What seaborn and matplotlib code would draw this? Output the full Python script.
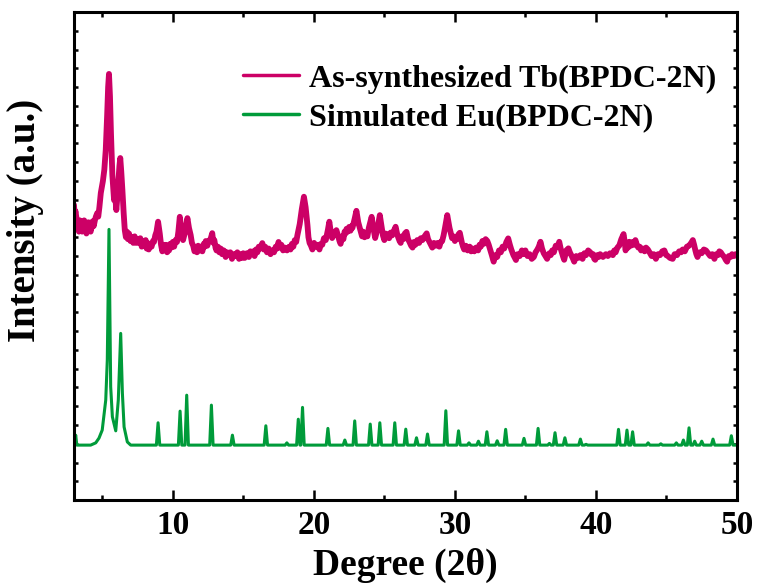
import numpy as np
import pandas as pd
import matplotlib
matplotlib.use("Agg")
import matplotlib.pyplot as plt
import seaborn as sns
from matplotlib.ticker import MultipleLocator
from matplotlib.lines import Line2D

# ---------------- data ----------------
# As-synthesized Tb(BPDC-2N): 2theta (deg) and intensity (a.u.)
exp_deg = [3.0, 3.05, 3.1, 3.2, 3.28, 3.35, 3.42, 3.5, 3.58, 3.65, 3.72, 3.8, 3.88, 3.95, 4.02,
           4.1, 4.18, 4.25, 4.32, 4.4, 4.48, 4.55, 4.65, 4.72, 4.8, 4.9,
           5.05, 5.15, 5.25, 5.35, 5.42, 5.48, 5.55, 5.62, 5.72, 5.84, 5.92, 6.0, 6.07, 6.14,
           6.22, 6.28, 6.35, 6.43, 6.52, 6.6, 6.68, 6.75, 6.82, 6.9, 7.0, 7.1, 7.2, 7.3, 7.4,
           7.5, 7.6, 7.7, 7.8, 7.9, 8.0, 8.08, 8.15, 8.22, 8.3, 8.4, 8.5, 8.6, 8.67, 8.76,
           8.85, 8.96, 9.08, 9.17, 9.26, 9.35, 9.45, 9.52, 9.6, 9.67, 9.74, 9.82, 9.9, 10.0,
           10.1, 10.2, 10.3, 10.4, 10.5, 10.62, 10.73, 10.88, 11.04, 11.15, 11.27, 11.36,
           11.45, 11.54, 11.63, 11.72, 11.8, 11.9, 12.0, 12.1, 12.2, 12.27, 12.34, 12.45,
           12.55, 12.68, 12.8, 12.88, 12.95, 13.03, 13.1, 13.2, 13.3, 13.4, 13.5, 13.62,
           13.75, 13.85, 13.95, 14.08, 14.2, 14.32, 14.45, 14.58, 14.7, 14.8, 14.9, 15.0,
           15.1, 15.25, 15.4, 15.5, 15.6, 15.7, 15.8, 15.9, 16.0, 16.1, 16.2, 16.35, 16.45,
           16.55, 16.68, 16.8, 16.93, 17.06, 17.18, 17.3, 17.4, 17.5, 17.6, 17.7, 17.82,
           17.95, 18.1, 18.25, 18.35, 18.45, 18.55, 18.65, 18.75, 18.84, 19.0, 19.15, 19.3,
           19.42, 19.55, 19.62, 19.7, 19.8, 19.9, 20.02, 20.15, 20.28, 20.4, 20.5, 20.6,
           20.72, 20.85, 21.0, 21.1, 21.2, 21.3, 21.45, 21.6, 21.75, 21.82, 21.9, 22.0, 22.1,
           22.18, 22.25, 22.32, 22.4, 22.5, 22.6, 22.68, 22.74, 22.9, 23.02, 23.15, 23.33,
           23.42, 23.5, 23.6, 23.7, 23.8, 23.9, 24.1, 24.22, 24.35, 24.5, 24.68, 24.82, 24.9,
           25.0, 25.08, 25.15, 25.25, 25.34, 25.45, 25.55, 25.68, 25.8, 25.9, 25.98, 26.08,
           26.16, 26.25, 26.35, 26.45, 26.57, 26.68, 26.78, 26.9, 27.0, 27.1, 27.2, 27.33,
           27.47, 27.58, 27.7, 27.85, 28.0, 28.1, 28.2, 28.3, 28.4, 28.52, 28.65, 28.78, 28.9,
           29.0, 29.1, 29.2, 29.3, 29.46, 29.62, 29.72, 29.8, 29.9, 30.0, 30.08, 30.15, 30.25,
           30.35, 30.42, 30.5, 30.58, 30.66, 30.78, 30.9, 31.05, 31.15, 31.25, 31.38, 31.5,
           31.65, 31.75, 31.84, 31.95, 32.05, 32.18, 32.3, 32.4, 32.5, 32.62, 32.75, 32.88,
           33.0, 33.13, 33.26, 33.38, 33.5, 33.65, 33.78, 33.9, 34.0, 34.15, 34.33, 34.45,
           34.6, 34.75, 34.88, 35.0, 35.15, 35.3, 35.45, 35.6, 35.72, 35.85, 35.95, 36.07,
           36.18, 36.3, 36.42, 36.54, 36.7, 36.8, 36.9, 37.02, 37.15, 37.28, 37.4, 37.5, 37.6,
           37.68, 37.75, 37.9, 38.05, 38.15, 38.25, 38.35, 38.46, 38.6, 38.75, 38.9, 39.05,
           39.18, 39.3, 39.45, 39.6, 39.7, 39.8, 39.88, 39.95, 40.1, 40.2, 40.3, 40.5, 40.7,
           40.85, 41.0, 41.2, 41.3, 41.4, 41.52, 41.65, 41.8, 41.96, 42.05, 42.1, 42.2, 42.28,
           42.36, 42.48, 42.6, 42.7, 42.8, 42.9, 43.0, 43.1, 43.2, 43.32, 43.45, 43.55, 43.68,
           43.8, 43.95, 44.1, 44.25, 44.4, 44.55, 44.7, 44.85, 44.98, 45.1, 45.25, 45.44,
           45.58, 45.75, 45.9, 46.04, 46.15, 46.3, 46.45, 46.6, 46.75, 46.87, 46.96, 47.05,
           47.12, 47.2, 47.35, 47.5, 47.65, 47.8, 47.95, 48.1, 48.25, 48.4, 48.52, 48.65,
           48.75, 48.85, 48.98, 49.1, 49.2, 49.3, 49.42, 49.55, 49.65, 49.8, 49.9, 50.0]
exp_int = [15.72, 15.1, 15.4, 14.9, 14.5, 14.3, 14.9, 14.7, 14.3, 14.6, 14.9, 14.6, 14.2, 14.5,
           14.8, 14.5, 14.3, 14.55, 14.85, 14.6, 14.9, 15.1, 15.29, 15.1, 15.6, 16.36,
           17.0, 17.6, 18.65, 20.5, 22.0, 22.7, 21.5, 19.55, 17.3, 15.98, 16.2, 15.45, 16.1,
           16.89, 17.8, 18.22, 17.5, 16.52, 15.3, 14.38, 14.0, 14.3, 13.9, 14.2, 13.8, 14.0,
           13.7, 14.05, 13.7, 13.9, 13.7, 13.95, 13.5, 13.8, 13.6, 13.85, 13.4, 13.7, 13.35,
           13.65, 13.5, 13.8, 13.75, 14.1, 14.3, 14.83, 14.2, 13.6, 13.25, 13.6, 13.35, 13.6,
           13.2, 13.5, 13.3, 13.65, 13.45, 13.75, 13.5, 13.85, 13.75, 14.3, 15.09, 14.4,
           13.85, 14.3, 15.02, 14.5, 14.12, 13.7, 13.55, 13.25, 13.4, 13.2, 13.55, 13.3, 13.5,
           13.25, 13.65, 13.5, 13.8, 13.55, 13.8, 13.9, 14.22, 13.7, 13.85, 13.45, 13.3, 13.5,
           13.2, 13.4, 13.1, 13.3, 12.95, 13.2, 13.05, 13.2, 12.85, 13.1, 13.0, 13.2, 12.85,
           13.1, 12.9, 13.15, 12.9, 13.15, 12.95, 13.25, 13.1, 13.25, 13.0, 13.35, 13.2, 13.5,
           13.4, 13.69, 13.35, 13.5, 13.2, 13.4, 13.1, 13.3, 13.2, 13.5, 13.4, 13.75, 13.45,
           13.6, 13.3, 13.45, 13.3, 13.5, 13.35, 13.65, 13.5, 13.85, 13.75, 14.12, 14.7, 15.5,
           16.16, 15.6, 14.65, 14.0, 13.7, 13.55, 13.35, 13.7, 13.5, 13.6, 13.35, 13.65, 13.6,
           13.95, 13.85, 14.4, 14.83, 14.3, 13.96, 14.2, 14.38, 14.0, 13.8, 13.65, 14.05, 13.9,
           14.3, 14.2, 14.45, 14.3, 14.55, 14.35, 14.6, 14.5, 15.0, 15.41, 14.8, 14.29, 14.05,
           14.3, 14.0, 14.15, 14.05, 14.5, 15.09, 14.5, 13.96, 14.4, 15.18, 14.5, 14.1, 13.85,
           14.2, 14.0, 14.15, 13.95, 14.25, 14.1, 14.35, 14.56, 14.2, 14.0, 13.8, 13.7, 14.05,
           13.9, 14.2, 14.29, 13.9, 13.75, 13.55, 13.45, 13.75, 13.6, 13.85, 13.7, 13.95,
           13.85, 14.05, 14.21, 13.9, 13.75, 13.6, 13.45, 13.7, 13.55, 13.7, 13.5, 13.75, 13.8,
           14.1, 14.5, 15.18, 14.5, 14.2, 13.95, 14.05, 13.8, 14.0, 13.9, 14.15, 14.24, 14.0,
           13.7, 13.5, 13.35, 13.55, 13.3, 13.5, 13.25, 13.4, 13.25, 13.45, 13.3, 13.6, 13.5,
           13.8, 13.65, 13.9, 13.8, 13.6, 13.35, 13.05, 12.7, 13.05, 12.95, 13.3, 13.2, 13.5,
           13.4, 13.75, 13.94, 13.6, 13.35, 13.05, 12.79, 13.1, 13.0, 13.3, 13.1, 13.3, 13.0,
           13.1, 12.85, 12.95, 13.2, 13.35, 13.5, 13.76, 13.4, 13.15, 13.0, 12.85, 13.15,
           13.05, 13.3, 13.2, 13.55, 13.5, 13.76, 13.4, 13.15, 12.95, 12.8, 13.3, 13.41, 13.2,
           13.05, 12.9, 12.7, 13.0, 12.9, 13.05, 12.85, 13.15, 13.05, 13.3, 13.2, 13.05, 13.1,
           12.85, 12.8, 13.05, 12.95, 13.1, 12.95, 13.1, 13.0, 13.15, 13.05, 13.3, 13.2, 13.45,
           13.55, 13.9, 14.17, 13.7, 13.3, 13.55, 13.45, 13.76, 13.55, 13.75, 13.6, 13.85,
           13.6, 13.45, 13.5, 13.3, 13.4, 13.25, 13.45, 13.35, 13.2, 13.0, 13.1, 12.85, 13.1,
           13.05, 13.25, 13.3, 13.05, 13.0, 12.9, 12.85, 13.1, 13.05, 13.25, 13.2, 13.35,
           13.25, 13.5, 13.55, 13.7, 13.85, 13.6, 13.3, 13.1, 12.95, 13.2, 13.15, 13.35, 13.3,
           13.15, 13.0, 13.1, 12.85, 13.1, 13.05, 13.25, 13.2, 13.05, 12.95, 12.8, 12.7, 13.0,
           12.95, 13.1, 13.0, 13.1, 13.05]

# Simulated Eu(BPDC-2N): low-angle profile (two strong reflections) read point by point
sim_low_deg = [3.0, 3.05, 3.12, 3.2, 4.18, 4.54, 4.77, 5.0, 5.25, 5.36, 5.48, 5.6, 5.72,
               5.96, 6.14, 6.31, 6.43, 6.55, 6.78, 7.02]
sim_low_int = [2.93, 3.1, 3.46, 2.93, 2.93, 3.05, 3.3, 3.73, 5.33, 7.46, 14.42, 6.04, 4.44,
               3.69, 5.33, 8.88, 5.7, 3.9, 3.1, 2.93]
# remaining sharp reflections: position (deg) and peak height (a.u.)
sim_peak_pos = [8.96, 10.52, 10.99, 12.74, 14.23, 16.6, 18.09, 18.9, 19.2, 21.0, 22.2, 22.9,
                24.0, 24.68, 25.74, 26.52, 27.28, 28.06, 29.36, 30.26, 31.0, 31.67, 32.27,
                33.0, 33.6, 34.9, 35.9, 36.7, 37.1, 37.8, 38.9, 39.3, 41.6, 42.2, 42.6, 43.7,
                44.6, 45.7, 46.2, 46.6, 47.0, 47.5, 48.3, 49.6]
sim_peak_int = [4.12, 4.74, 5.59, 5.06, 3.46, 3.96, 3.05, 4.31, 4.94, 3.82, 3.2, 4.22, 4.05,
                4.12, 4.12, 3.78, 3.32, 3.52, 4.76, 3.69, 3.05, 3.14, 3.64, 3.16, 3.77, 3.29,
                3.82, 3.02, 3.59, 3.32, 3.25, 2.97, 3.77, 3.73, 3.64, 3.05, 3.0, 3.05, 3.2,
                3.85, 3.14, 3.14, 3.25, 3.43]
sim_base = 2.93
sim_end = 50.0

labels = ["As-synthesized Tb(BPDC-2N)", "Simulated Eu(BPDC-2N)"]
x_label = "Degree (2\u03b8)"
y_label = "Intensity (a.u.)"
x_ticks = [10, 20, 30, 40, 50]

# ---------------- build tables ----------------
df_exp = pd.DataFrame({"deg": exp_deg, "int": exp_int})

hw = 0.12
sx = list(sim_low_deg)
sy = list(sim_low_int)
for p, h in zip(sim_peak_pos, sim_peak_int):
    sx += [p - hw, p, p + hw]
    sy += [sim_base, h, sim_base]
sx.append(sim_end)
sy.append(sim_base)
df_sim = pd.DataFrame({"deg": sx, "int": sy})

# ---------------- style ----------------
sns.set_theme(style="white")
plt.rcParams["font.family"] = ["Liberation Serif", "DejaVu Serif"]
plt.rcParams["font.weight"] = "bold"
plt.rcParams["axes.labelweight"] = "bold"
for k in ["text.color", "axes.labelcolor", "xtick.color", "ytick.color", "axes.edgecolor"]:
    plt.rcParams[k] = "black"

magenta = "#CC0066"
green = "#009B3A"

fig = plt.figure(figsize=(7.59, 5.87), dpi=100)
ax = fig.add_axes([0.0975, 0.148, 0.8735, 0.8316])

sns.lineplot(data=df_exp, x="deg", y="int", ax=ax, color=magenta, lw=4.2,
             estimator=None, sort=False, label=labels[0])
sns.lineplot(data=df_sim, x="deg", y="int", ax=ax, color=green, lw=2.2,
             estimator=None, sort=False, label=labels[1])
ax.get_lines()[0].set_solid_joinstyle("round")

ax.set_xlim(3, 50)
ax.set_ylim(0, 26)
ax.xaxis.set_major_locator(plt.FixedLocator(x_ticks))
ax.xaxis.set_minor_locator(MultipleLocator(5))
ax.yaxis.set_major_locator(MultipleLocator(1))

ax.tick_params(axis="x", which="major", direction="in", length=7, width=1.8,
               top=True, bottom=True, labelsize=24, pad=7)
ax.tick_params(axis="x", which="minor", direction="in", length=3.5, width=1.8,
               top=True, bottom=True)
ax.tick_params(axis="y", which="major", direction="in", length=3, width=1.8,
               left=True, right=True, labelleft=False)
for lab in ax.get_xticklabels():
    lab.set_fontweight("bold")

for s in ax.spines.values():
    s.set_linewidth(2.2)
    s.set_color("black")

ax.set_xlabel(x_label, fontsize=27, fontweight="bold", labelpad=5)
ax.set_ylabel(y_label, fontsize=28, fontweight="bold")
ax.yaxis.set_label_coords(-0.045, 0.574)

handles = [Line2D([], [], color=magenta, lw=2.5), Line2D([], [], color=green, lw=2.5)]
ax.legend(handles, labels, loc="upper left", bbox_to_anchor=(0.255, 0.893),
          frameon=False, borderpad=0, borderaxespad=0,
          handlelength=1.75, handletextpad=0.3, labelspacing=0.3,
          prop={"weight": "bold", "size": 23})

fig.savefig("out.png", dpi=100)
